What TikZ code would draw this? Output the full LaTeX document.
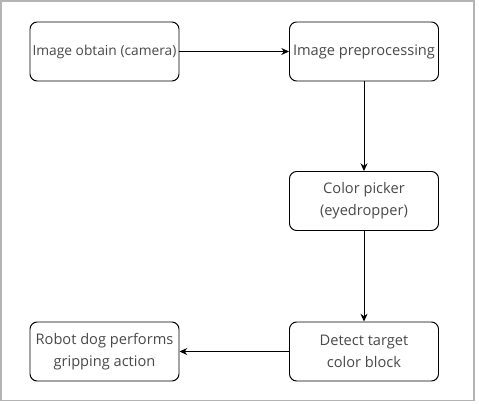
\documentclass[tikz,border=0pt]{standalone}
\usepackage{fontspec}
\setmainfont{Open Sans}
\usepackage{tikz}
\usepackage{xcolor}
\usetikzlibrary{arrows.meta}
\definecolor{txtgray}{RGB}{72,72,72}
\definecolor{framegray}{RGB}{180,180,180}
\tikzset{stepbox/.style={draw,line width=0.7pt,rounded corners=0.18cm,minimum width=3.725cm,minimum height=1.475cm,inner sep=1pt,align=center,text=txtgray,font=\fontsize{10.4}{15.5}\selectfont},
	flow/.style={line width=0.7pt,-{Stealth[length=5.5pt,width=5pt]}}}
\begin{document}
\begin{tikzpicture}
			\useasboundingbox (0,0) rectangle (11.975,-10.1);
			\draw[framegray,line width=1.1pt] (0.02,-0.02) rectangle (11.85,-10.01);
			\node[stepbox,font=\fontsize{9.8}{14}\selectfont] (obtain) at (2.6125,-1.2875) {Image obtain (camera)};
			\node[stepbox] (prep) at (9.1,-1.2875) {Image preprocessing};
			\node[stepbox] (picker) at (9.1,-5.025) {Color picker\\(eyedropper)};
			\node[stepbox] (detect) at (9.1,-8.7875) {Detect target\\color block};
			\node[stepbox] (grip) at (2.6125,-8.7875) {Robot dog performs\\gripping action};
			\draw[flow] (obtain) -- (prep);
			\draw[flow] (prep) -- (picker);
			\draw[flow] (picker) -- (detect);
			\draw[flow] (detect) -- (grip);%
		\end{tikzpicture}
\end{document}
